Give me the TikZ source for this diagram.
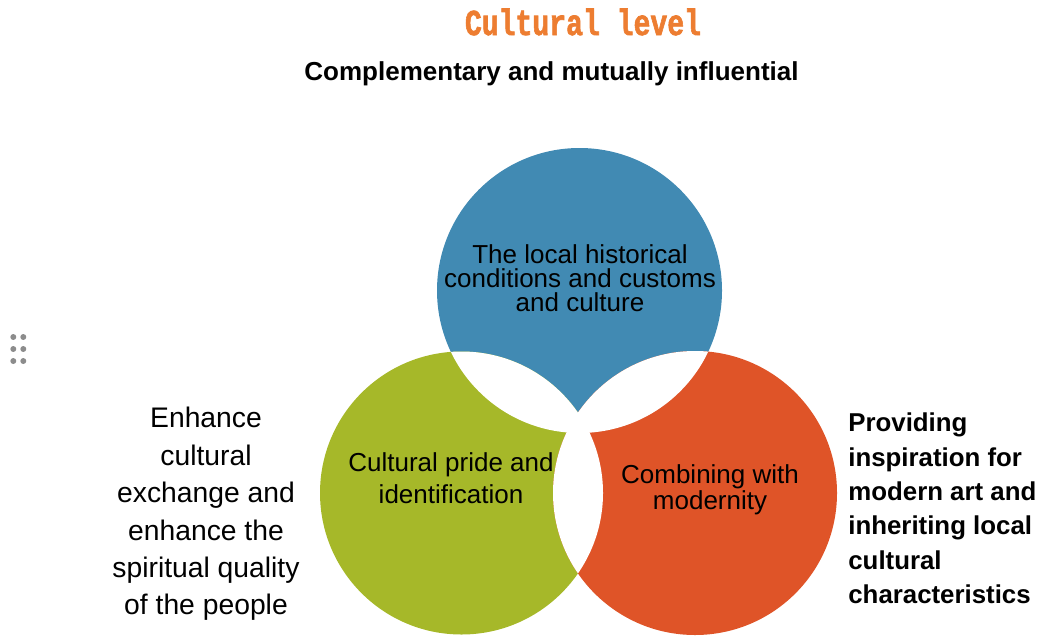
\documentclass[tikz,border=0pt]{standalone}
\usepackage{fontspec}
\setmainfont{Liberation Sans}
\newfontfamily\monofont[BoldFeatures={FakeBold=2}]{Liberation Mono}
\definecolor{venblue}{HTML}{418AB3}
\definecolor{vengreen}{HTML}{A6B829}
\definecolor{venred}{HTML}{DF5428}
\definecolor{titleorange}{HTML}{ED7D31}
\definecolor{handlegray}{HTML}{8C8C8C}

\begin{document}
\begin{tikzpicture}[x=0.02cm,y=-0.02cm]
\tikzstyle{circtext}=[align=center,inner sep=0pt,font=\fontsize{14.8}{13.6}\selectfont]
\tikzstyle{sidetext}=[inner sep=0pt]
\useasboundingbox (0,0) rectangle (1043,635);

% circle centres
\coordinate (cb) at (579.5,290.5);
\coordinate (cg) at (461.5,493);
\coordinate (cr) at (695,493);

% the three circles
\fill[venblue] (cb) circle (142.5);
\fill[vengreen] (cg) circle (141.5);
\fill[venred] (cr) circle (142);

% overlaps stay white
\begin{scope}
  \clip (cb) circle (142.5);
  \fill[white] (cg) circle (141.5);
  \fill[white] (cr) circle (142);
\end{scope}
\begin{scope}
  \clip (cg) circle (141.5);
  \fill[white] (cr) circle (142);
\end{scope}

% heading
\node[text=titleorange] (title) at (583,22) {\monofont\bfseries\fontsize{16}{16}\selectfont\scalebox{1}[1.3]{Cultural level}};
\node (sub) at (551.5,74) {\bfseries\fontsize{14.8}{16}\selectfont Complementary and mutually influential};

% texts in the circles
\node[circtext] (tb) at (580,278) {The local historical\\conditions and customs\\and culture};
\node[circtext,font=\fontsize{14.8}{18}\selectfont] (tg) at (451,478) {Cultural pride and\\identification};
\node[circtext] (tr) at (710,490) {Combining with\\modernity};

% side texts
\node[sidetext,align=center,font=\fontsize{16.1}{21.3}\selectfont] (tleft) at (206,514)
  {Enhance\\cultural\\exchange and\\enhance the\\spiritual quality\\of the people};
\node[sidetext,align=left,anchor=west,font=\bfseries\fontsize{14.7}{19.6}\selectfont] (tright) at (848,508.5)
  {Providing\\inspiration for\\modern art and\\inheriting local\\cultural\\characteristics};

% handle
\foreach \dx in {13.3,23.3}
  \foreach \dy in {337,349,361}
    \fill[handlegray] (\dx,\dy) circle (3);
\end{tikzpicture}
\end{document}
